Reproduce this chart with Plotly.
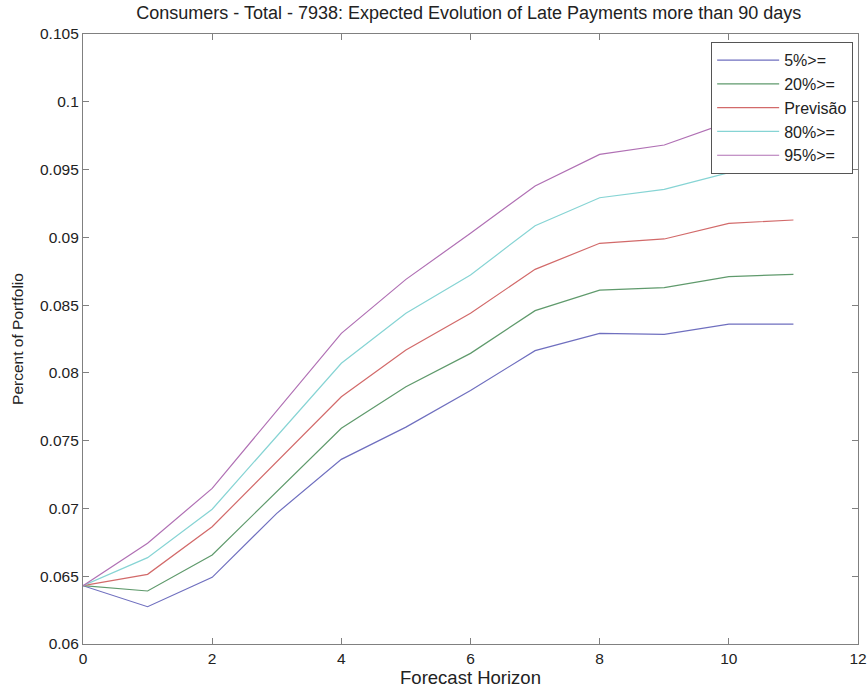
import plotly.graph_objects as go

horizon = [0, 1, 2, 3, 4, 5, 6, 7, 8, 9, 10, 11]
p05 = [0.0643, 0.06275, 0.06492, 0.06964, 0.07362, 0.0760, 0.0787, 0.08164, 0.08292, 0.08284, 0.0836, 0.0836]
p20 = [0.0643, 0.06391, 0.06657, 0.07124, 0.07591, 0.07898, 0.08144, 0.08459, 0.08611, 0.08629, 0.0871, 0.08727]
forecast = [0.0643, 0.06514, 0.06865, 0.07348, 0.07824, 0.08169, 0.0844, 0.08764, 0.08956, 0.08988, 0.09103, 0.09128]
p80 = [0.0643, 0.06637, 0.06994, 0.07532, 0.08071, 0.0844, 0.08722, 0.09086, 0.09292, 0.09354, 0.09477, 0.09521]
p95 = [0.0643, 0.06743, 0.07148, 0.07721, 0.08292, 0.0869, 0.0903, 0.09379, 0.09612, 0.09681, 0.0985, 0.0992]

series_names = ["5%>=", "20%>=", "Previsão", "80%>=", "95%>="]
series_values = [p05, p20, forecast, p80, p95]
series_colors = ["#6f6fbf", "#5f9a6c", "#d26a6a", "#86d4d4", "#b070b4"]

x_ticks = [0, 2, 4, 6, 8, 10, 12]
y_ticks = [0.06, 0.065, 0.07, 0.075, 0.08, 0.085, 0.09, 0.095, 0.1, 0.105]
y_tick_text = ["0.06", "0.065", "0.07", "0.075", "0.08", "0.085", "0.09", "0.095", "0.1", "0.105"]

REG = "Liberation Sans, Arial"

fig = go.Figure()
for name, vals, col in zip(series_names, series_values, series_colors):
    fig.add_trace(go.Scatter(x=horizon, y=vals, mode="lines", name=name,
                             line=dict(color=col, width=1.2)))

axis_common = dict(showgrid=False, zeroline=False, showline=True, linecolor="#808080",
                   linewidth=1.2, mirror="allticks", ticks="inside", ticklen=6,
                   tickcolor="#808080", automargin=False, ticklabeloverflow="allow",
                   tickfont=dict(family=REG, size=15.5, color="#222"))

fig.update_layout(
    width=868, height=693,
    margin=dict(l=83, r=10, t=34, b=49),
    paper_bgcolor="white", plot_bgcolor="white",
    title=dict(text="Consumers - Total - 7938: Expected Evolution of Late Payments more than 90 days",
               x=0.54, xanchor="center", y=0.981, yanchor="middle", automargin=False,
               font=dict(family=REG, size=18, color="#222")),
    xaxis=dict(range=[0, 12], tickvals=x_ticks,
               title=dict(text="Forecast Horizon", standoff=2,
                          font=dict(family=REG, size=18.5, color="#222")),
               **axis_common),
    yaxis=dict(range=[0.06, 0.105], tickvals=y_ticks, ticktext=y_tick_text,
               title=dict(text="Percent of Portfolio", standoff=12,
                          font=dict(family=REG, size=15.5, color="#222")),
               **axis_common),
    legend=dict(x=0.9935, xanchor="right", y=0.987, yanchor="top",
                bgcolor="white", bordercolor="#555", borderwidth=1.2,
                font=dict(family=REG, size=16, color="#222"),
                itemwidth=62, tracegroupgap=0),
    showlegend=True,
)

fig.write_html("out.html", config={"displayModeBar": False},
               post_script="document.body.style.margin='0';document.body.style.overflow='hidden';")
